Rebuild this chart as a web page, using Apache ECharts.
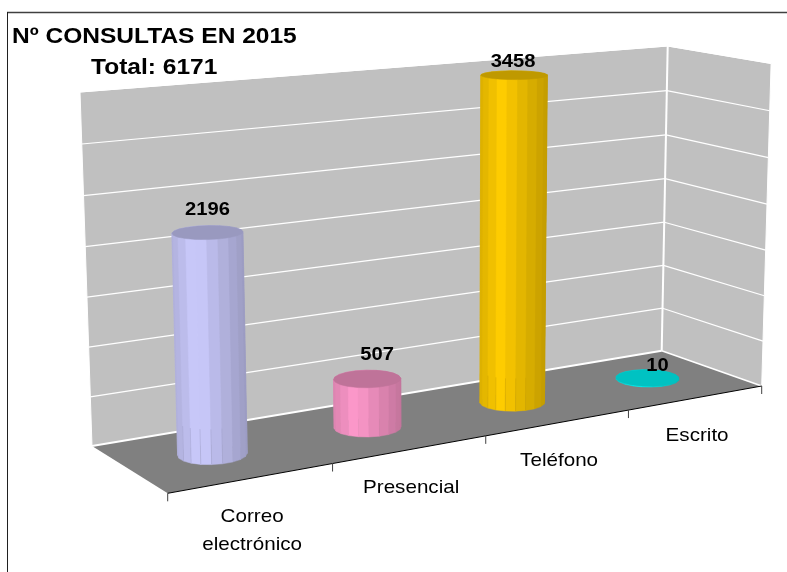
<!DOCTYPE html>
<html>
<head>
<meta charset="utf-8">
<style>html,body{margin:0;padding:0;background:#fff}#c{width:787px;height:572px}</style>
<script src="https://cdn.jsdelivr.net/npm/echarts@6/dist/echarts.min.js"></script>
</head>
<body>
<div id="c"></div>
<script>
const categories = ['Correo\nelectrónico', 'Presencial', 'Teléfono', 'Escrito'];
const consultas = [2196, 507, 3458, 10];
const barColors = ['#CCCCFF', '#FF99CC', '#FFCC00', '#00CCCC'];
const valueTicks = [0, 500, 1000, 1500, 2000, 2500, 3000, 3500];
const titleMain = 'Nº CONSULTAS EN 2015';
const titleTotal = 'Total: 6171';

/* --- camera: floor quad (front-left, front-right, back-right, back-left) and vertical vanishing point --- */
const FL = [167.7, 493.3], FR = [761.7, 386], BR = [661.7, 350.7], BL = [92, 446];
const VP = [451, 11040];
const BL_TOP_Y = 92, BR_TOP_Y = 46;
const LABEL_OFFSETS = [[0, -22], [10, -24], [-1, -13], [10, -12]];
const RU = 0.195, RD = 0.19, SIDES = 20, DC = 0.5, UC_SHIFT = 0.012;
const FONT = '"Liberation Sans", Arial, sans-serif';

const dx1 = FR[0] - BR[0], dx2 = BL[0] - BR[0], sx = FL[0] - FR[0] + BR[0] - BL[0];
const dy1 = FR[1] - BR[1], dy2 = BL[1] - BR[1], sy = FL[1] - FR[1] + BR[1] - BL[1];
const den = dx1 * dy2 - dx2 * dy1;
const hg = (sx * dy2 - dx2 * sy) / den, hh = (dx1 * sy - sx * dy1) / den;
const ha = FR[0] - FL[0] + hg * FR[0], hb = BL[0] - FL[0] + hh * BL[0], hc = FL[0];
const hd = FR[1] - FL[1] + hg * FR[1], he = BL[1] - FL[1] + hh * BL[1], hf = FL[1];
const qL = -(BL[1] - BL_TOP_Y) * (1 + hh) / (VP[1] - BL_TOP_Y);
const qR = -(BR[1] - BR_TOP_Y) * (1 + hg + hh) / (VP[1] - BR_TOP_Y);

/* u: category units 0..n, d: depth 0 front..1 back, h: 0..1 of the value axis */
function project(u, d, h) {
  const s = u / categories.length;
  const Q = (qL * (1 - s) + qR * s) * h;
  const w = hg * s + hh * d + 1 + Q;
  return [(ha * s + hb * d + hc + Q * VP[0]) / w, (hd * s + he * d + hf + Q * VP[1]) / w];
}

const GW = 400, GH = 350, AXMAX = valueTicks[valueTicks.length - 1];
function toFrame(api, i, value) {
  const p = api.coord([i, value]);
  return [p[0] / GW * categories.length, 1 - p[1] / GH];
}
function shade(hex, f) {
  const n = parseInt(hex.slice(1), 16);
  const c = [n >> 16 & 255, n >> 8 & 255, n & 255].map(v => Math.min(255, Math.round(v * f)));
  return 'rgb(' + c.join(',') + ')';
}

function renderPlanes(params, api) {
  const n = categories.length;
  const poly = (pts, fill) => ({ type: 'polygon', shape: { points: pts }, style: { fill: fill }, silent: true });
  const line = (a, b, col, w) => ({ type: 'line', shape: { x1: a[0], y1: a[1], x2: b[0], y2: b[1] }, style: { stroke: col, lineWidth: w, fill: null }, silent: true });
  return { type: 'group', children: [
    poly([project(0,1,0), project(n,1,0), project(n,1,1), project(0,1,1)], '#C0C0C0'),
    poly([project(n,1,0), project(n,0,0), project(n,0,1), project(n,1,1)], '#C0C0C0'),
    poly([project(0,0,0), project(n,0,0), project(n,1,0), project(0,1,0)], '#808080'),
    line(project(0,1,0), project(0,1,1), '#FFFFFF', 1),
    line(project(n,1,0), project(n,1,1), '#FFFFFF', 2),
    line(project(n,0,0), project(n,0,1), '#FFFFFF', 1),
    line(project(0,1,1), project(n,1,1), '#FFFFFF', 1),
    line(project(n,1,1), project(n,0,1), '#FFFFFF', 1)
  ] };
}
function renderGrid(params, api) {
  const n = categories.length;
  const h = toFrame(api, 0, api.value(1))[1];
  const ln = (a, b, w) => ({ type: 'line', shape: { x1: a[0], y1: a[1], x2: b[0], y2: b[1] }, style: { stroke: '#FFFFFF', lineWidth: w, fill: null }, silent: true });
  const w = h === 0 ? 2 : 1.2;
  return { type: 'group', children: [
    ln(project(0,1,h), project(n,1,h), w),
    ln(project(n,1,h), project(n,0,h), h === 0 ? 1.6 : 1.2)
  ] };
}
function renderAxis(params, api) {
  const i = api.value(0), children = [];
  const a = project(i, 0, 0), b = project(i + 1, 0, 0);
  const tick = p => ({ type: 'line', shape: { x1: p[0], y1: p[1], x2: p[0], y2: p[1] + 8 }, style: { stroke: '#404040', lineWidth: 1, fill: null }, silent: true });
  children.push({ type: 'line', shape: { x1: a[0], y1: a[1], x2: b[0], y2: b[1] }, style: { stroke: '#000000', lineWidth: 1, fill: null }, silent: true });
  children.push(tick(a));
  if (i === categories.length - 1) children.push(tick(b));
  const mx = (a[0] + b[0]) / 2, my = (a[1] + b[1]) / 2;
  children.push({ type: 'text', x: mx + 2, y: my + 24, scaleX: 1.085, silent: true, style: {
    text: categories[i], fill: '#000', font: '19px ' + FONT,
    align: 'center', verticalAlign: 'top', lineHeight: 28 } });
  return { type: 'group', children: children };
}
function renderBar(params, api) {
  const i = api.value(0), val = api.value(1);
  const fr = toFrame(api, i, val), uc = fr[0] + UC_SHIFT, h = fr[1];
  const color = barColors[i];
  const ring = [], step = Math.PI * 2 / SIDES, start = step / 2;
  for (let k = 0; k < SIDES; k++) {
    const th = start + k * step;
    ring.push([uc + RU * Math.cos(th), DC + RD * Math.sin(th)]);
  }
  const xs = ring.map(r => project(r[0], r[1], 0)[0]);
  const xMin = Math.min.apply(null, xs), xMax = Math.max.apply(null, xs);
  const facets = [];
  for (let k = 0; k < SIDES; k++) {
    const p = ring[k], q = ring[(k + 1) % SIDES];
    const pos = ((xs[k] + xs[(k + 1) % SIDES]) / 2 - xMin) / (xMax - xMin) * 2 - 1;
    const peak = -0.35;
    let f = pos < peak ? 1 - 0.14 * (peak - pos) / (1 + peak) : 1 - 0.24 * (pos - peak) / (1 - peak);
    if (i === 3) f *= 1.2;
    facets.push({ depth: (p[1] + q[1]) / 2, f: f, p: p, q: q });
  }
  facets.sort((a, b) => b.depth - a.depth);
  const children = [];
  facets.forEach(o => {
    const col = shade(color, o.f);
    children.push({ type: 'polygon', silent: true,
      shape: { points: [project(o.p[0], o.p[1], 0), project(o.q[0], o.q[1], 0), project(o.q[0], o.q[1], h), project(o.p[0], o.p[1], h)] },
      style: { fill: col, stroke: col, lineWidth: 0.5 } });
    if (h > 0.3 && o.depth < DC) {
      const a = project(o.p[0], o.p[1], 0), b = project(o.p[0], o.p[1], 0.1);
      children.push({ type: 'line', silent: true, shape: { x1: a[0], y1: a[1], x2: b[0], y2: b[1] },
        style: { stroke: shade(color, 0.8), lineWidth: 0.5, fill: null } });
    }
  });
  const capF = i === 3 ? 0.95 : 0.75;
  children.push({ type: 'polygon', silent: true,
    shape: { points: ring.map(r => project(r[0], r[1], h)) },
    style: { fill: shade(color, capF), stroke: shade(color, capF), lineWidth: 0.5 } });
  const c = project(uc, DC, h), off = LABEL_OFFSETS[i];
  children.push({ type: 'text', x: c[0] + off[0], y: c[1] + off[1], scaleX: 1.12, silent: true, style: {
    text: String(val), fill: '#000', font: 'bold 18px ' + FONT,
    align: 'center', verticalAlign: 'middle' } });
  return { type: 'group', children: children };
}

const chart = echarts.init(document.getElementById('c'), null, { renderer: 'canvas' });
chart.setOption({
  animation: false,
  backgroundColor: '#FFFFFF',
  tooltip: { show: false },
  graphic: [
    { type: 'line', shape: { x1: 7, y1: 12.5, x2: 787, y2: 12.5 }, style: { stroke: '#404040', lineWidth: 1.5 }, silent: true },
    { type: 'line', shape: { x1: 7.5, y1: 12, x2: 7.5, y2: 572 }, style: { stroke: '#202020', lineWidth: 1 }, silent: true },
    { type: 'text', x: 12, y: 36.5, scaleX: 1.115, silent: true, style: { text: titleMain, fill: '#000', font: 'bold 22px ' + FONT, align: 'left', verticalAlign: 'middle' } },
    { type: 'text', x: 91, y: 67.5, scaleX: 1.115, silent: true, style: { text: titleTotal, fill: '#000', font: 'bold 22px ' + FONT, align: 'left', verticalAlign: 'middle' } }
  ],
  grid: { left: 0, top: 0, width: GW, height: GH, show: false },
  xAxis: { type: 'category', data: categories, show: false, boundaryGap: true },
  yAxis: { type: 'value', min: 0, max: AXMAX, interval: 500, show: false },
  series: [
    { type: 'custom', name: 'planes', z: 1, clip: false, silent: true, renderItem: renderPlanes, data: [[0, 0]] },
    { type: 'custom', name: 'grid', z: 2, clip: false, silent: true, renderItem: renderGrid, data: valueTicks.map(v => [0, v]) },
    { type: 'custom', name: 'axis', z: 3, clip: false, silent: true, renderItem: renderAxis, data: categories.map((c, i) => [i, 0]) },
    { type: 'custom', name: 'Consultas', z: 4, clip: false, silent: true, renderItem: renderBar, data: consultas.map((v, i) => [i, v]) }
  ]
});
</script>
</body>
</html>
